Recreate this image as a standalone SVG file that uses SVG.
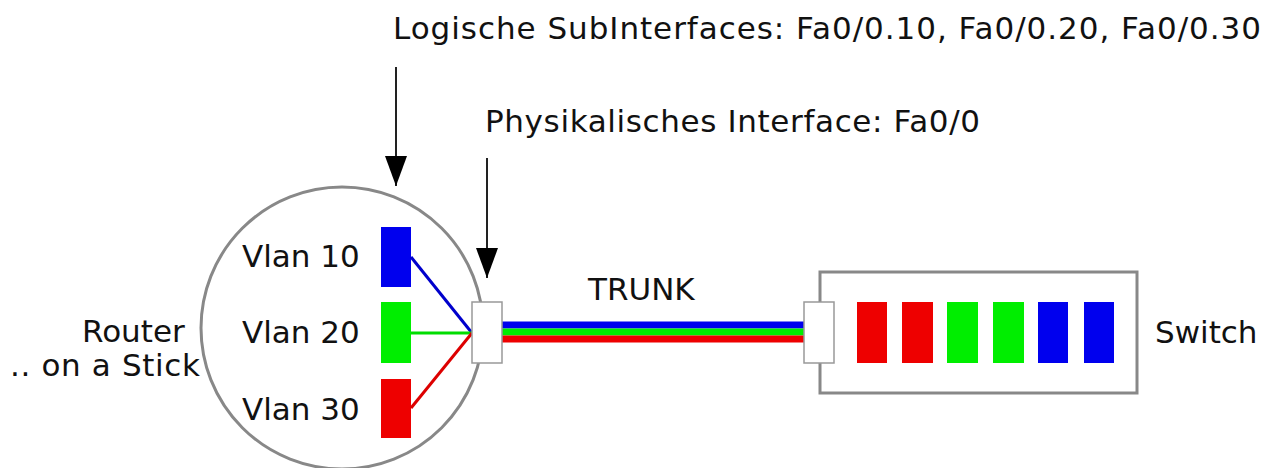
<svg xmlns="http://www.w3.org/2000/svg" width="1276" height="468" viewBox="0 0 1276 468">
<defs>
<style>
text{font-family:"DejaVu Sans","Verdana",sans-serif;font-size:31px;fill:#111}
.frame{fill:#fff;stroke:#888;stroke-width:3}
.port{fill:#fff;stroke:#999;stroke-width:1.5}
.ptr{stroke:#222;stroke-width:2;fill:none}
.b{fill:#0000ee}
.g{fill:#00ee00}
.r{fill:#ee0000}
</style>
<marker id="ah" markerUnits="userSpaceOnUse" markerWidth="32" markerHeight="22" refX="30" refY="11" orient="auto" viewBox="0 0 32 22">
<polygon points="0,0 30,11 0,22" fill="#000"/>
</marker>
</defs>
<rect width="1276" height="468" fill="#fff"/>
<g id="router">
<circle class="frame" cx="342" cy="328" r="141"/>
<text x="82" y="342">Router</text>
<text x="10" y="376" textLength="190">.. on a Stick</text>
</g>
<g id="vlan10">
<rect class="b" x="381" y="227" width="30" height="60"/>
<text x="242" y="267">Vlan 10</text>
</g>
<g id="vlan20">
<rect class="g" x="381" y="302" width="30" height="61"/>
<text x="242" y="343">Vlan 20</text>
</g>
<g id="vlan30">
<rect class="r" x="381" y="379" width="30" height="59"/>
<text x="242" y="420">Vlan 30</text>
</g>
<g id="switch">
<rect class="frame" x="820" y="272" width="317" height="121"/>
<rect class="r" x="857" y="302" width="30" height="61"/>
<rect class="r" x="902" y="302" width="31" height="61"/>
<rect class="g" x="947" y="302" width="31" height="61"/>
<rect class="g" x="993" y="302" width="31" height="61"/>
<rect class="b" x="1038" y="302" width="30" height="61"/>
<rect class="b" x="1084" y="302" width="30" height="61"/>
<text x="1155" y="343">Switch</text>
</g>
<g id="connectors">
<line x1="411" y1="257" x2="472" y2="333" stroke="#0000cc" stroke-width="3"/>
<line x1="411" y1="333" x2="472" y2="333" stroke="#00dd00" stroke-width="3"/>
<line x1="411" y1="408" x2="472" y2="333" stroke="#dd0000" stroke-width="3"/>
<line x1="502" y1="325" x2="805" y2="325" stroke="#0000ee" stroke-width="7"/>
<line x1="502" y1="332" x2="805" y2="332" stroke="#00ee00" stroke-width="7"/>
<line x1="502" y1="339" x2="805" y2="339" stroke="#ee0000" stroke-width="7"/>
<line class="ptr" x1="396" y1="67" x2="396" y2="186" marker-end="url(#ah)"/>
<line class="ptr" x1="487" y1="158" x2="487" y2="278" marker-end="url(#ah)"/>
<text x="588" y="300">TRUNK</text>
</g>
<g id="router-port">
<rect class="port" x="472" y="302" width="30" height="61"/>
</g>
<g id="switch-port">
<rect class="port" x="804" y="302" width="30" height="61"/>
</g>
<g id="labels">
<text x="393" y="39" textLength="868">Logische SubInterfaces: Fa0/0.10, Fa0/0.20, Fa0/0.30</text>
<text x="485" y="132" textLength="495">Physikalisches Interface: Fa0/0</text>
</g>
</svg>
